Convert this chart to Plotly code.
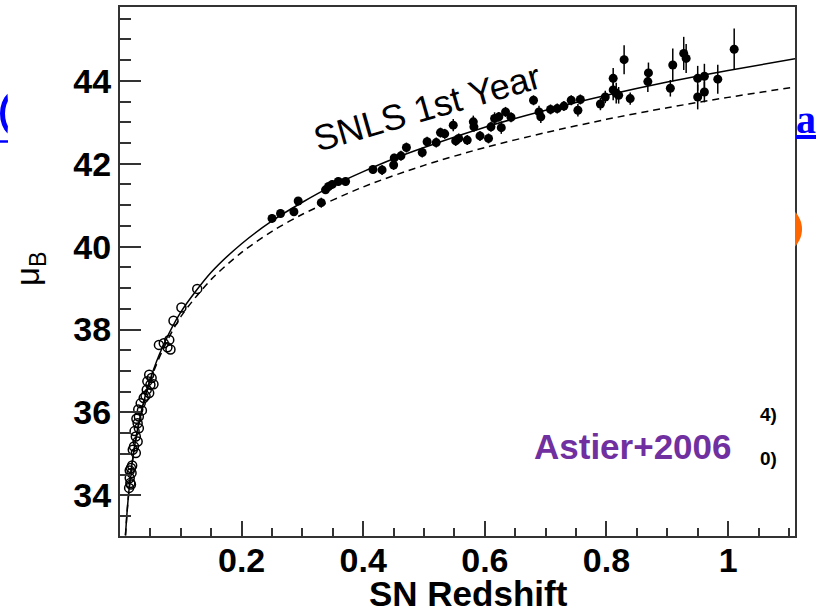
import math
import plotly.graph_objects as go

# ---------------- data ----------------
lowz_z = [0.015, 0.016, 0.017, 0.018, 0.018, 0.019, 0.016, 0.020, 0.021, 0.023,
          0.026, 0.026, 0.024, 0.029, 0.031, 0.029, 0.027, 0.031, 0.030, 0.036,
          0.034, 0.039, 0.042, 0.044, 0.048, 0.050, 0.045, 0.052, 0.048, 0.055,
          0.064, 0.072, 0.078, 0.081, 0.083, 0.088, 0.101, 0.127]
lowz_mu = [34.18, 34.42, 34.30, 34.66, 34.26, 34.54, 34.60, 34.72, 35.10, 35.18,
           35.02, 35.42, 35.55, 35.30, 35.62, 35.74, 35.85, 35.90, 36.07, 36.05,
           36.22, 36.35, 36.40, 36.55, 36.47, 36.67, 36.75, 36.83, 36.91, 36.68,
           37.63, 37.67, 37.57, 37.75, 37.52, 38.21, 38.53, 38.98]

snls_z = [0.250, 0.264, 0.286, 0.293, 0.331, 0.338, 0.343, 0.349, 0.359, 0.371,
          0.416, 0.431, 0.450, 0.451, 0.462, 0.471, 0.497, 0.505, 0.520, 0.527,
          0.534, 0.548, 0.552, 0.557, 0.571, 0.581, 0.582, 0.592, 0.606, 0.610,
          0.616, 0.623, 0.627, 0.634, 0.643, 0.680, 0.689, 0.692, 0.708, 0.719,
          0.730, 0.742, 0.753, 0.757, 0.790, 0.798, 0.811, 0.811, 0.816, 0.820,
          0.829, 0.839, 0.868, 0.869, 0.905, 0.909, 0.927, 0.931, 0.950, 0.950,
          0.961, 0.961, 0.983, 1.010]
snls_mu = [40.68, 40.80, 40.84, 41.10, 41.06, 41.37, 41.45, 41.50, 41.57, 41.57,
           41.86, 41.85, 41.97, 42.14, 42.19, 42.39, 42.27, 42.53, 42.51, 42.75,
           42.72, 42.93, 42.55, 42.61, 42.57, 43.01, 42.89, 42.67, 42.61, 42.89,
           43.09, 43.13, 42.87, 43.25, 43.12, 43.53, 43.25, 43.13, 43.31, 43.33,
           43.39, 43.53, 43.29, 43.55, 43.44, 43.61, 44.06, 43.78, 43.70, 43.65,
           44.51, 43.57, 43.98, 44.19, 43.82, 44.38, 44.66, 44.54, 44.06, 43.61,
           44.11, 43.73, 44.04, 44.76]
snls_err = [0.10, 0.10, 0.10, 0.10, 0.12, 0.10, 0.10, 0.10, 0.10, 0.10,
            0.10, 0.12, 0.12, 0.10, 0.12, 0.12, 0.12, 0.12, 0.12, 0.12,
            0.12, 0.15, 0.12, 0.12, 0.12, 0.15, 0.12, 0.12, 0.12, 0.12,
            0.15, 0.12, 0.15, 0.12, 0.12, 0.12, 0.15, 0.15, 0.12, 0.12,
            0.12, 0.12, 0.15, 0.12, 0.15, 0.15, 0.25, 0.25, 0.25, 0.20,
            0.35, 0.15, 0.25, 0.25, 0.20, 0.40, 0.40, 0.35, 0.30, 0.30,
            0.30, 0.25, 0.35, 0.50]

# model curves
lcdm_z = [0.009, 0.012, 0.015, 0.02, 0.03, 0.04, 0.05, 0.07, 0.10, 0.15,
          0.20, 0.25, 0.30, 0.35, 0.40, 0.45, 0.50, 0.60, 0.70, 0.80,
          0.90, 1.00, 1.11]
lcdm_mu = [33.04, 33.67, 34.16, 34.79, 35.69, 36.32, 36.82, 37.58, 38.42, 39.38,
           40.07, 40.62, 41.07, 41.47, 41.81, 42.12, 42.39, 42.88, 43.29, 43.65,
           43.97, 44.25, 44.53]
eds_z = [0.009, 0.012, 0.015, 0.02, 0.03, 0.04, 0.05, 0.07, 0.10, 0.15,
         0.20, 0.25, 0.30, 0.40, 0.50, 0.60, 0.70, 0.80, 0.90, 1.00, 1.11]
eds_mu = [33.03, 33.66, 34.15, 34.77, 35.66, 36.28, 36.78, 37.50, 38.31, 39.21,
          39.86, 40.37, 40.78, 41.44, 41.96, 42.39, 42.75, 43.07, 43.35, 43.60, 43.85]

x_tickvals = [0.2, 0.4, 0.6, 0.8, 1.0]
x_ticktext = ["0.2", "0.4", "0.6", "0.8", "1"]
y_tickvals = [34, 36, 38, 40, 42, 44]
y_ticktext = ["34", "36", "38", "40", "42", "44"]

# ---------------- layout geometry ----------------
W, H = 827, 613
L, R, T, B = 120, 32, 5, 77
PW, PH = W - L - R, H - T - B


def px(x):
    return (x - L) / PW


def py(y):
    return (H - B - y) / PH


FONT = "Liberation Sans, Arial, Helvetica, sans-serif"

fig = go.Figure()

fig.add_trace(go.Scatter(x=lcdm_z, y=lcdm_mu, mode="lines",
                         line=dict(color="black", width=1.5, shape="spline", smoothing=0.8),
                         showlegend=False, hoverinfo="skip"))
fig.add_trace(go.Scatter(x=eds_z, y=eds_mu, mode="lines",
                         line=dict(color="black", width=1.5, dash="7px,5px",
                                   shape="spline", smoothing=0.8),
                         showlegend=False, hoverinfo="skip"))
fig.add_trace(go.Scatter(x=lowz_z, y=lowz_mu, mode="markers",
                         marker=dict(symbol="circle-open", size=9, color="black",
                                     line=dict(width=1.5, color="black")),
                         showlegend=False))
fig.add_trace(go.Scatter(x=snls_z, y=snls_mu, mode="markers",
                         marker=dict(symbol="circle", size=9, color="black"),
                         error_y=dict(type="data", array=snls_err, thickness=1.5,
                                      width=0, color="black"),
                         showlegend=False))

fig.update_xaxes(range=[0, 1.11], tickvals=x_tickvals, ticktext=x_ticktext,
                 ticks="inside", ticklen=15, tickwidth=2, tickcolor="#333",
                 minor=dict(dtick=0.05, tick0=0, ticks="inside", ticklen=8,
                            tickwidth=2, tickcolor="#333"),
                 showline=True, linecolor="#333", linewidth=2, mirror=True,
                 showgrid=False, zeroline=False, ticklabelstandoff=-7,
                 tickfont=dict(family=FONT, size=34, color="black", weight="bold"))
fig.update_yaxes(range=[33.02, 45.78], tickvals=y_tickvals, ticktext=y_ticktext,
                 ticks="inside", ticklen=21, tickwidth=2, tickcolor="#333",
                 minor=dict(dtick=0.5, tick0=34, ticks="inside", ticklen=11,
                            tickwidth=2, tickcolor="#333"),
                 showline=True, linecolor="#333", linewidth=2, mirror=True,
                 showgrid=False, zeroline=False,
                 tickfont=dict(family=FONT, size=34, color="black", weight="bold"))


def ann(text, x, y, size, color="black", weight="normal", angle=0, family=FONT,
        xanchor="center"):
    return dict(text=text, x=px(x), y=py(y), xref="paper", yref="paper",
                xanchor=xanchor, yanchor="middle", showarrow=False, textangle=angle,
                font=dict(family=family, size=size, color=color, weight=weight))


annotations = [
    ann("SN Redshift", 468, 594, 35, weight="bold"),
    ann("μ<sub>B</sub>", 30, 268, 33, angle=-90),
    ann("SNLS 1st Year", 427, 106, 36, angle=-16),
    ann("Astier+2006", 633, 446, 35, color="#7030A0", weight="bold"),
    ann("4)", 768, 414, 19, weight="bold"),
    ann("0)", 768, 458, 19, weight="bold"),
    ann("<u>a</u>", 794, 118, 40, color="#0000FF", weight="bold",
        family="Liberation Serif, serif", xanchor="left"),
]


# decorative fragments of the slide behind the chart
def path_from(points):
    return "M " + " L ".join(f"{px(a):.5f},{py(b):.5f}" for a, b in points) + " Z"


# orange circle segment at the right edge
cx, cy, r = 777.0, 228.0, 25.0
arc = []
a0 = math.acos((795 - cx) / r)
n = 24
for i in range(n + 1):
    t = -a0 + 2 * a0 * i / n
    arc.append((cx + r * math.cos(t), cy + r * math.sin(t)))
shapes = [
    dict(type="path", path=path_from(arc), xref="paper", yref="paper",
         fillcolor="#FF6600", line=dict(width=0), layer="above"),
]
# blue bracket fragment on the left and its underline
blue_outer = []
blue_inner = []
for i in range(13):
    t = math.pi / 2 + math.pi * i / 12
    blue_outer.append((15 + 15 * math.cos(t), 112 - 23 * math.sin(t)))
    blue_inner.append((15 + 10 * math.cos(t), 112 - 18 * math.sin(t)))
blue_pts = [p for p in blue_outer if p[0] <= 8.5] + [p for p in reversed(blue_inner) if p[0] <= 8.5]
shapes.append(dict(type="path", path=path_from(blue_pts), xref="paper", yref="paper",
                   fillcolor="#0000FF", line=dict(width=0), layer="above"))
shapes.append(dict(type="line", x0=px(0), x1=px(8), y0=py(140), y1=py(140),
                   xref="paper", yref="paper", line=dict(color="#0000FF", width=2.5)))

fig.update_layout(width=W, height=H, margin=dict(l=L, r=R, t=T, b=B),
                  paper_bgcolor="white", plot_bgcolor="white",
                  annotations=annotations, shapes=shapes, showlegend=False)

fig.write_html("out.html")
